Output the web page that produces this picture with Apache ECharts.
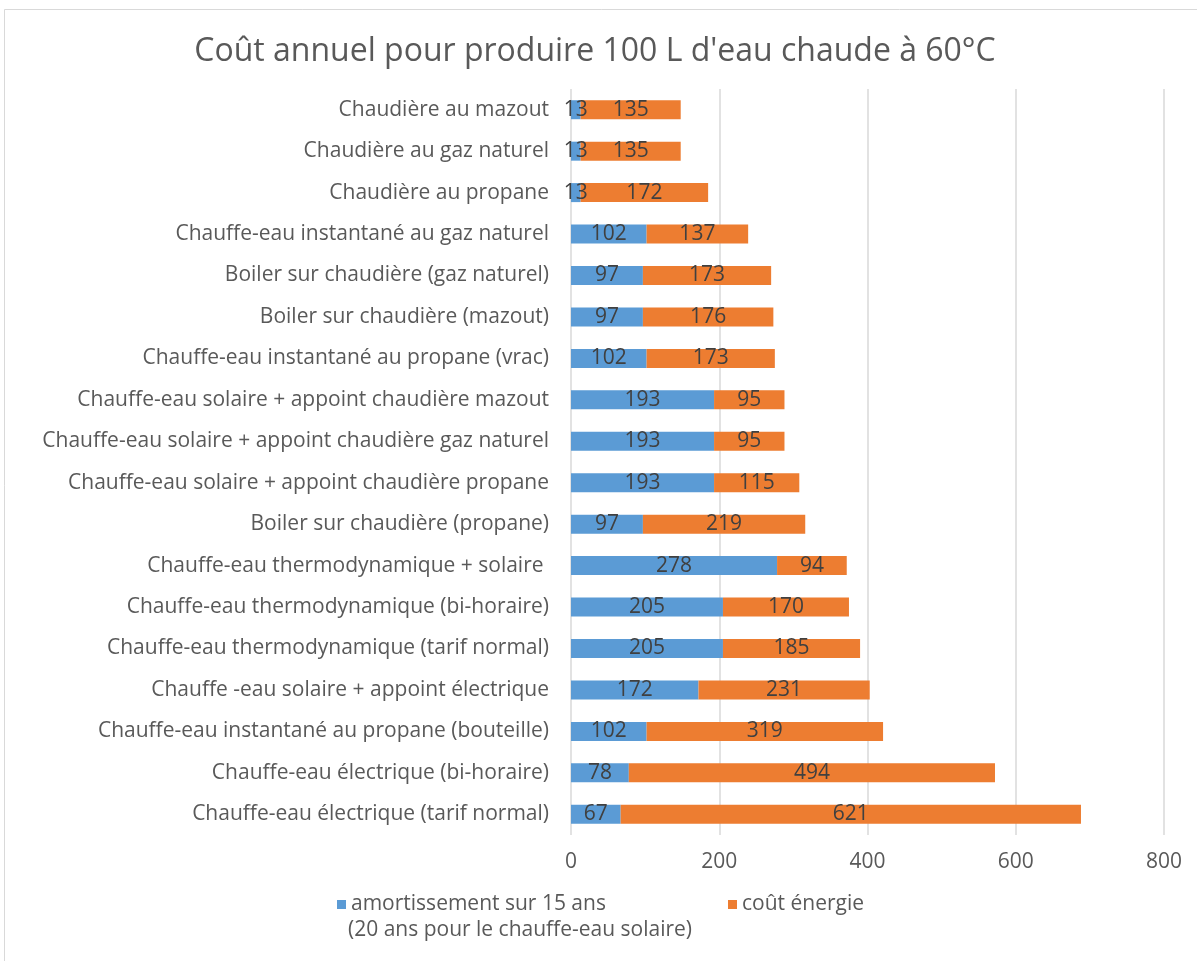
<!DOCTYPE html>
<html>
<head>
<meta charset="utf-8">
<script src="https://cdn.jsdelivr.net/npm/echarts@6/dist/echarts.min.js"></script>
<style>
  html, body { margin: 0; padding: 0; background: #fff; }
  #chart { width: 1197px; height: 961px; }
</style>
</head>
<body>
<div id="chart"></div>
<script>
// catégories, de haut en bas
const categories = [
  'Chaudière au mazout',
  'Chaudière au gaz naturel',
  'Chaudière au propane',
  'Chauffe-eau instantané au gaz naturel',
  'Boiler sur chaudière (gaz naturel)',
  'Boiler sur chaudière (mazout)',
  'Chauffe-eau instantané au propane (vrac)',
  'Chauffe-eau solaire + appoint chaudière mazout',
  'Chauffe-eau solaire + appoint chaudière gaz naturel',
  'Chauffe-eau solaire + appoint chaudière propane',
  'Boiler sur chaudière (propane)',
  'Chauffe-eau thermodynamique + solaire ',
  'Chauffe-eau thermodynamique (bi-horaire)',
  'Chauffe-eau thermodynamique (tarif normal)',
  'Chauffe -eau solaire + appoint électrique',
  'Chauffe-eau instantané au propane (bouteille)',
  'Chauffe-eau électrique (bi-horaire)',
  'Chauffe-eau électrique (tarif normal)'
];
const amortissement = [13, 13, 13, 102, 97, 97, 102, 193, 193, 193, 97, 278, 205, 205, 172, 102, 78, 67];
const coutEnergie = [135, 135, 172, 137, 173, 176, 173, 95, 95, 115, 219, 94, 170, 185, 231, 319, 494, 621];

const nameAmort = 'amortissement sur 15 ans';
const nameAmort2 = '(20 ans pour le chauffe-eau solaire)';
const nameEnergie = 'coût énergie';

const font = 'Open Sans';
const txt = '#595959';
const chart = echarts.init(document.getElementById('chart'));

const barLabel = {
  show: true,
  position: 'inside',
  color: '#404040',
  fontSize: 21,
  fontFamily: font
};

chart.setOption({
  backgroundColor: '#fff',
  animation: false,
  title: {
    text: "Coût annuel pour produire 100 L d'eau chaude à 60°C",
    left: 590,
    textAlign: 'center',
    top: 31,
    textStyle: { color: txt, fontSize: 32, fontWeight: 'normal', fontFamily: font }
  },
  graphic: [{
    type: 'rect',
    shape: { x: 4.5, y: 9.5, width: 1200, height: 960 },
    style: { fill: 'none', stroke: '#d9d9d9', lineWidth: 1 }
  }, {
    type: 'text',
    left: 348,
    top: 920,
    style: { text: nameAmort2, fill: txt, fontSize: 21, fontFamily: font }
  }],
  legend: [{
    data: [nameAmort],
    left: 332,
    top: 889,
    itemWidth: 9,
    itemHeight: 9,
    icon: 'rect',
    textStyle: { color: txt, fontSize: 21, fontFamily: font }
  }, {
    data: [nameEnergie],
    left: 723,
    top: 889,
    itemWidth: 9,
    itemHeight: 9,
    icon: 'rect',
    textStyle: { color: txt, fontSize: 21, fontFamily: font }
  }],
  grid: { left: 571, right: 33, top: 89, bottom: 126, containLabel: false },
  xAxis: {
    type: 'value',
    min: 0,
    max: 800,
    interval: 200,
    axisLine: { show: false },
    axisTick: { show: false },
    splitLine: { lineStyle: { color: '#d9d9d9', width: 1.5 } },
    axisLabel: { color: txt, fontSize: 21, fontFamily: font, margin: 17 }
  },
  yAxis: {
    type: 'category',
    inverse: true,
    data: categories,
    axisLine: { show: false },
    axisTick: { show: false },
    axisLabel: { color: txt, fontSize: 21, fontFamily: font, margin: 22 }
  },
  series: [{
    name: nameAmort,
    type: 'bar',
    stack: 'total',
    barWidth: 19,
    itemStyle: { color: '#5b9bd5' },
    label: barLabel,
    data: amortissement
  }, {
    name: nameEnergie,
    type: 'bar',
    stack: 'total',
    barWidth: 19,
    itemStyle: { color: '#ed7d31' },
    label: barLabel,
    data: coutEnergie
  }]
});
</script>
</body>
</html>
